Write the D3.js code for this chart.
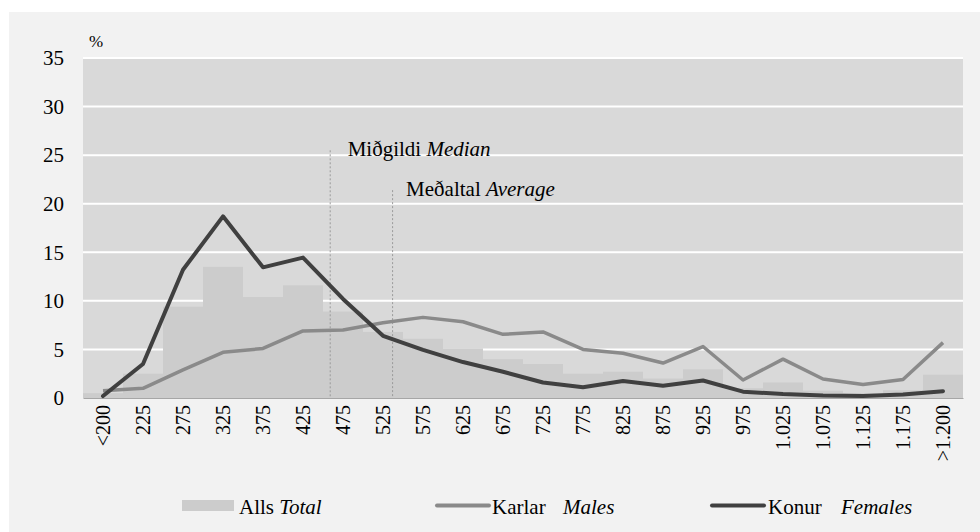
<!DOCTYPE html>
<html>
<head>
<meta charset="utf-8">
<script src="https://cdn.jsdelivr.net/npm/d3@7"></script>
<style>
  html, body { margin: 0; padding: 0; background: #ffffff; }
  svg { display: block; }
</style>
</head>
<body>
<svg id="chart" width="980" height="532" font-family="Liberation Serif"></svg>
<script>
// ---- Data ----
const categories = ["<200","225","275","325","375","425","475","525","575","625","675","725","775","825","875","925","975","1.025","1.075","1.125","1.175",">1.200"];
const totalValues  = [0.5, 2.5, 9.4, 13.5, 10.4, 11.6, 8.9, 6.8, 6.1, 5.1, 4.0, 3.5, 2.5, 2.7, 2.0, 2.95, 1.0, 1.6, 0.75, 0.5, 0.8, 2.4];
const maleValues   = [0.75, 1.0, 2.9, 4.7, 5.1, 6.9, 7.0, 7.75, 8.3, 7.85, 6.55, 6.8, 5.0, 4.6, 3.6, 5.3, 1.85, 4.0, 1.95, 1.4, 1.9, 5.7];
const femaleValues = [0.2, 3.5, 13.2, 18.7, 13.45, 14.45, 10.2, 6.4, 4.95, 3.7, 2.7, 1.6, 1.1, 1.75, 1.25, 1.8, 0.65, 0.4, 0.25, 0.2, 0.35, 0.7];
const yTicks = [0, 5, 10, 15, 20, 25, 30, 35];
const markerNames = ["Miðgildi", "Meðaltal"];
const markerNamesEn = ["Median", "Average"];
const markerValues = [459, 537];       // thousand ISK
const markerLineTops = [25.5, 21.4];   // % level where the dotted line ends
const legendIs = ["Alls", "Karlar", "Konur"];
const legendEn = ["Total", "Males", "Females"];

// ---- Layout ----
const FONT = "Liberation Serif";
const svg = d3.select("#chart");
const W = 980, H = 532;
const plot = {left: 83, right: 963, top: 58, bottom: 398};
const fsY = 21, fsX = 20, fsAnn = 21, fsLeg = 21;
const markerLabelDx = [17.5, 13.5];
const colors = {outer: "#f2f2f2", plotBg: "#d9d9d9", bar: "#cccccc", male: "#8a8a8a", female: "#404040"};

function txt(sel, size) {
  return sel.attr("font-family", FONT).style("font-family", `'${FONT}', serif`)
    .style("font-size", size + "px").attr("fill", "#000");
}

svg.append("rect").attr("x", 9).attr("y", 12).attr("width", W - 9).attr("height", H - 12).attr("fill", colors.outer);

const x = d3.scaleBand().domain(categories).range([plot.left, plot.right]).padding(0);
const y = d3.scaleLinear().domain([0, 35]).range([plot.bottom, plot.top]);
const xc = d => x(d) + x.bandwidth() / 2;
const xv = d3.scaleLinear().domain([225, 1175]).range([xc("225"), xc("1.175")]);

// plot background
svg.append("rect").attr("x", plot.left).attr("y", plot.top)
  .attr("width", plot.right - plot.left).attr("height", plot.bottom - plot.top)
  .attr("fill", colors.plotBg);

// gridlines
svg.append("g").selectAll("line").data(yTicks.filter(t => t > 0)).join("line")
  .attr("x1", plot.left).attr("x2", plot.right)
  .attr("y1", d => y(d)).attr("y2", d => y(d))
  .attr("stroke", "#ffffff").attr("stroke-width", 2);

// bars
svg.append("g").selectAll("rect").data(categories).join("rect")
  .attr("x", d => x(d)).attr("width", x.bandwidth())
  .attr("y", (d, i) => y(totalValues[i]))
  .attr("height", (d, i) => y(0) - y(totalValues[i]))
  .attr("fill", colors.bar);

// y axis
const yAxis = d3.axisLeft(y).tickValues(yTicks).tickSize(0).tickPadding(19);
const gy = svg.append("g").attr("transform", `translate(${plot.left},0)`).call(yAxis).attr("font-family", FONT);
gy.select(".domain").remove();
txt(gy.selectAll("text"), fsY);

txt(svg.append("text").attr("x", 89).attr("y", 47), 17).text("%");

// x axis
const xAxis = d3.axisBottom(x).tickSize(0);
const gx = svg.append("g").attr("transform", `translate(0,${plot.bottom})`).call(xAxis).attr("font-family", FONT);
gx.select(".domain").attr("stroke", "#a6a6a6").attr("stroke-width", 1);
txt(gx.selectAll("text"), fsX)
  .attr("transform", "rotate(-90)")
  .attr("text-anchor", "end")
  .attr("x", -7).attr("y", 0).attr("dy", "0.33em");

// marker lines
markerValues.forEach((v, i) => {
  svg.append("line")
    .attr("x1", xv(v)).attr("x2", xv(v))
    .attr("y1", y(markerLineTops[i])).attr("y2", plot.bottom)
    .attr("stroke", "#9a9a9a").attr("stroke-width", 1).attr("stroke-dasharray", "2,2");
  const t = txt(svg.append("text").attr("x", xv(v) + markerLabelDx[i]).attr("y", y(markerLineTops[i]) + 6), fsAnn);
  t.append("tspan").text(markerNames[i] + " ");
  t.append("tspan").attr("font-style", "italic").text(markerNamesEn[i]);
});

// lines
const line = d3.line().x((d, i) => xc(categories[i])).y(d => y(d));
svg.append("path").datum(maleValues).attr("d", line)
  .attr("fill", "none").attr("stroke", colors.male).attr("stroke-width", 3.5).attr("stroke-linejoin", "round");
svg.append("path").datum(femaleValues).attr("d", line)
  .attr("fill", "none").attr("stroke", colors.female).attr("stroke-width", 4).attr("stroke-linejoin", "round").attr("stroke-linecap", "round");

// legend
const legY = 505.5;
const lg = svg.append("g");
lg.append("rect").attr("x", 182).attr("y", legY - 5.5).attr("width", 52).attr("height", 11).attr("fill", colors.bar);
const t0 = txt(lg.append("text").attr("x", 239).attr("y", legY + 8), fsLeg);
t0.append("tspan").text(legendIs[0] + " ");
t0.append("tspan").attr("font-style", "italic").text(legendEn[0]);

lg.append("line").attr("x1", 437).attr("x2", 489).attr("y1", legY).attr("y2", legY)
  .attr("stroke", colors.male).attr("stroke-width", 4).attr("stroke-linecap", "round");
const t1 = txt(lg.append("text").attr("x", 492).attr("y", legY + 8), fsLeg);
t1.append("tspan").text(legendIs[1]);
t1.append("tspan").attr("x", 563).attr("font-style", "italic").text(legendEn[1]);

lg.append("line").attr("x1", 712).attr("x2", 764).attr("y1", legY).attr("y2", legY)
  .attr("stroke", colors.female).attr("stroke-width", 4).attr("stroke-linecap", "round");
const t2 = txt(lg.append("text").attr("x", 768).attr("y", legY + 8), fsLeg);
t2.append("tspan").text(legendIs[2]);
t2.append("tspan").attr("x", 841).attr("font-style", "italic").text(legendEn[2]);
</script>
</body>
</html>
